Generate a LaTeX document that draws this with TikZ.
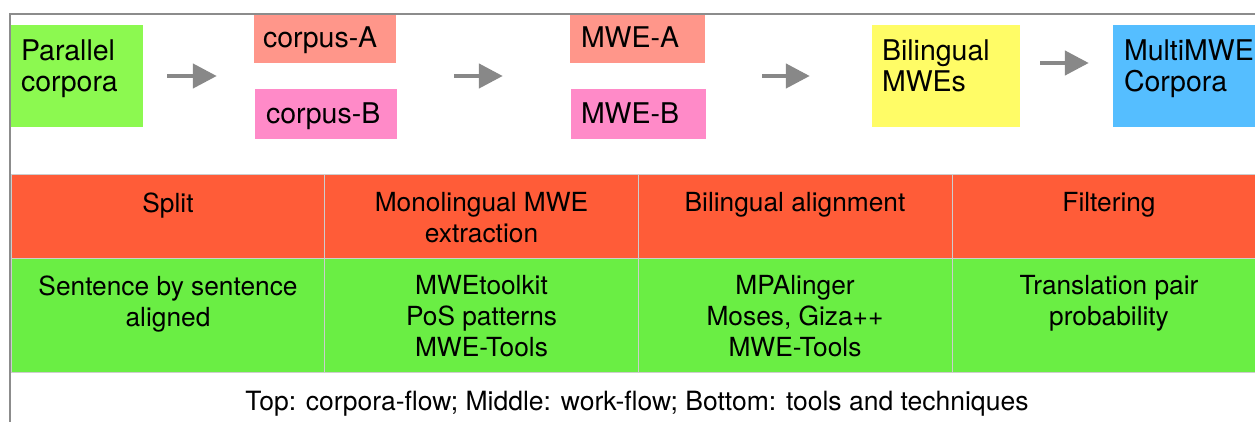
\documentclass[tikz,border=0pt]{standalone}
\usepackage{fontspec}
\setmainfont{TeX Gyre Heros}
\usetikzlibrary{arrows.meta}

\definecolor{pcgreen}{RGB}{140,249,80}
\definecolor{cellgreen}{RGB}{106,238,68}
\definecolor{cellred}{RGB}{255,92,56}
\definecolor{salmon}{RGB}{255,150,138}
\definecolor{pinkbox}{RGB}{255,138,200}
\definecolor{yellowbox}{RGB}{255,252,102}
\definecolor{bluebox}{RGB}{85,190,255}
\definecolor{arrowgray}{RGB}{136,136,136}
\definecolor{framegray}{RGB}{140,140,140}
\definecolor{gridgray}{RGB}{205,205,205}

\tikzset{
  box/.style={rectangle, inner sep=0pt, draw=none},
  boxtext/.style={anchor=north west, inner sep=0pt, align=left,
    font=\fontsize{28.5}{31}\selectfont},
  cell/.style={rectangle, inner sep=0pt, draw=gridgray, line width=1pt,
    minimum width=314pt},
  celltext/.style={anchor=north, inner sep=0pt, align=center,
    font=\fontsize{26.3}{31}\selectfont},
  flow/.style={draw=arrowgray, line width=4.5pt,
    -{Triangle[length=24pt,width=24pt]}},
}

\begin{document}
\begin{tikzpicture}[x=1pt,y=1pt]
\useasboundingbox (0,0) rectangle (1255,421);
\clip (0,0) rectangle (1255,421);
\fill[white] (0,0) rectangle (1255,421);

% corpora flow
\node[box, fill=pcgreen,   minimum width=132pt, minimum height=102pt] (pc) at (77,345) {};
\node[box, fill=salmon,    minimum width=142pt, minimum height=50pt]  (cA) at (325,383) {};
\node[box, fill=pinkbox,   minimum width=142pt, minimum height=50pt]  (cB) at (326,307) {};
\node[box, fill=salmon,    minimum width=135pt, minimum height=50pt]  (mA) at (637.5,383) {};
\node[box, fill=pinkbox,   minimum width=135pt, minimum height=50pt]  (mB) at (638.5,307) {};
\node[box, fill=yellowbox, minimum width=148pt, minimum height=102pt] (bm) at (946,345) {};
\node[box, fill=bluebox,   minimum width=149pt, minimum height=102pt] (mm) at (1187.5,345) {};

\node[boxtext] (pct) at ([xshift=10pt,yshift=-15pt]pc.north west) {Parallel\\corpora};
\node[boxtext] (cAt) at ([xshift=9pt,yshift=-14pt]cA.north west) {corpus-A};
\node[boxtext] (cBt) at ([xshift=11pt,yshift=-14pt]cB.north west) {corpus-B};
\node[boxtext] (mAt) at ([xshift=11pt,yshift=-14pt]mA.north west) {MWE-A};
\node[boxtext] (mBt) at ([xshift=10pt,yshift=-14pt]mB.north west) {MWE-B};
\node[boxtext] (bmt) at ([xshift=10pt,yshift=-15pt]bm.north west) {Bilingual\\MWEs};
\node[boxtext] (mmt) at ([xshift=11pt,yshift=-15pt]mm.north west) {MultiMWE\\Corpora};

% arrows between the stages
\coordinate (a1s) at ([xshift=24pt]pc.east);
\coordinate (a1e) at (a1s -| cA.west);
\draw[flow] (a1s) -- ([xshift=-37pt]a1e);
\coordinate (a2s) at (pc.east -| cB.east);
\coordinate (a2e) at (pc.east -| mA.west);
\draw[flow] ([xshift=57pt]a2s) -- ([xshift=-67pt]a2e);
\coordinate (a3s) at (bm.west -| mB.east);
\draw[flow] ([xshift=56pt]a3s) -- ([xshift=-62pt]bm.west);
\coordinate (a4s) at ([shift={(20pt,13pt)}]bm.east);
\coordinate (a4e) at (a4s -| mm.west);
\draw[flow] (a4s) -- ([xshift=-24pt]a4e);

% work flow
\node[cell, fill=cellred, minimum height=83pt] (w1) at (168,204.5) {};
\node[cell, fill=cellred, minimum height=83pt] (w2) at (481.5,204.5) {};
\node[cell, fill=cellred, minimum height=83pt] (w3) at (795,204.5) {};
\node[cell, fill=cellred, minimum height=83pt] (w4) at (1109,204.5) {};
% tools and techniques
\node[cell, fill=cellgreen, minimum height=114pt] (t1) at (168,106) {};
\node[cell, fill=cellgreen, minimum height=114pt] (t2) at (481.5,106) {};
\node[cell, fill=cellgreen, minimum height=114pt] (t3) at (795,106) {};
\node[cell, fill=cellgreen, minimum height=114pt] (t4) at (1109,106) {};

\node[celltext] (w1t) at ([yshift=-18pt]w1.north) {Split};
\node[celltext] (w2t) at ([yshift=-18pt]w2.north) {Monolingual MWE\\extraction};
\node[celltext] (w3t) at ([yshift=-18pt]w3.north) {Bilingual alignment};
\node[celltext] (w4t) at ([yshift=-18pt]w4.north) {Filtering};
\node[celltext] (t1t) at ([yshift=-18pt]t1.north) {Sentence by sentence\\aligned};
\node[celltext] (t2t) at ([yshift=-18pt]t2.north) {MWEtoolkit\\PoS patterns\\MWE-Tools};
\node[celltext] (t3t) at ([yshift=-18pt]t3.north) {MPAlinger\\Moses, Giza++\\MWE-Tools};
\node[celltext] (t4t) at ([yshift=-18pt]t4.north) {Translation pair\\probability};

% caption
\node[anchor=base, inner sep=0pt, font=\fontsize{26.5}{30}\selectfont] (cap) at (637,11)
  {Top: corpora-flow; Middle: work-flow; Bottom: tools and techniques};

% outer frame
\draw[framegray, line width=2.5pt] (10,-5) -- (10,407) -- (1270,407);
\end{tikzpicture}
\end{document}
